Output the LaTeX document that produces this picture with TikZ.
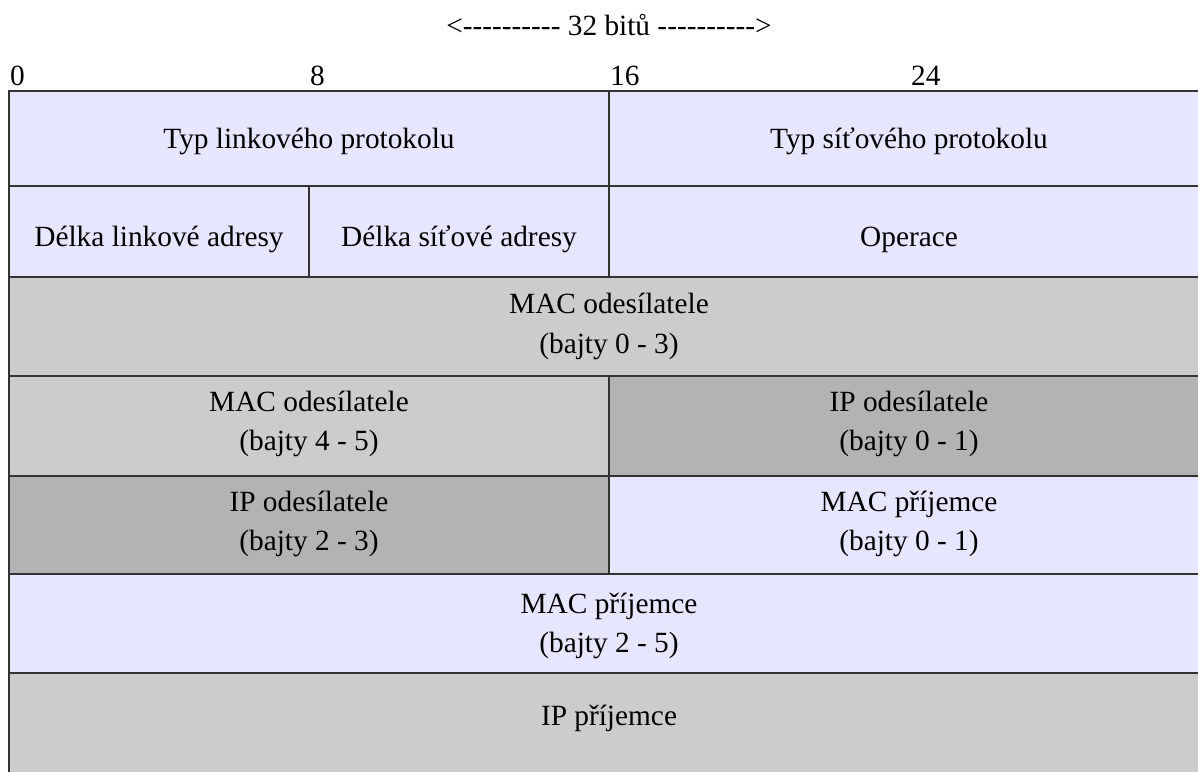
\documentclass[tikz,border=0pt]{standalone}
\usepackage{fontspec}
\setmainfont{Liberation Serif}
\definecolor{lav}{HTML}{E6E6FF}
\definecolor{lgray}{HTML}{CCCCCC}
\definecolor{dgray}{HTML}{B3B3B3}
\newcommand\hy{\mbox{-}}
\newcommand\hyten{\hy\hy\hy\hy\hy\hy\hy\hy\hy\hy}
\begin{document}
\begin{tikzpicture}[x=1pt,y=-1pt,
  cell/.style={draw=black!80, line width=1.2pt, inner sep=0pt, outer sep=0pt},
  txt/.style={font=\fontsize{29.33}{36}\selectfont, inner sep=0pt, anchor=base},
  ruler/.style={font=\fontsize{29.33}{36}\selectfont, inner sep=0pt, anchor=base west}]
\useasboundingbox (0,0) rectangle (1198,771);
\fill[white] (0,0) rectangle (1198,771);
\clip (0,0) rectangle (1198,771);
% header
\node[txt] (hdr) at (609,35) {<\hyten\ 32 bitů \hyten>};
\node[ruler] (b0) at (10,85) {0};
\node[ruler] (b8) at (310,85) {8};
\node[ruler] (b16) at (610,85) {16};
\node[ruler] (b24) at (911,85) {24};
% cells
\node[cell, fill=lav, minimum width=600pt, minimum height=95pt] (r1a) at (309,138.5) {};
\node[cell, fill=lav, minimum width=600pt, minimum height=95pt] (r1b) at (909,138.5) {};
\node[cell, fill=lav, minimum width=300pt, minimum height=91pt] (r2a) at (159,231.5) {};
\node[cell, fill=lav, minimum width=300pt, minimum height=91pt] (r2b) at (459,231.5) {};
\node[cell, fill=lav, minimum width=600pt, minimum height=91pt] (r2c) at (909,231.5) {};
\node[cell, fill=lgray, minimum width=1200pt, minimum height=99pt] (r3) at (609,326.5) {};
\node[cell, fill=lgray, minimum width=600pt, minimum height=100pt] (r4a) at (309,426) {};
\node[cell, fill=dgray, minimum width=600pt, minimum height=100pt] (r4b) at (909,426) {};
\node[cell, fill=dgray, minimum width=600pt, minimum height=98pt] (r5a) at (309,525) {};
\node[cell, fill=lav, minimum width=600pt, minimum height=98pt] (r5b) at (909,525) {};
\node[cell, fill=lav, minimum width=1200pt, minimum height=99pt] (r6) at (609,623.5) {};
\node[cell, fill=lgray, minimum width=1200pt, minimum height=100pt] (r7) at (609,723) {};
% texts
\node[txt] (t1a) at (309,148) {Typ linkového protokolu};
\node[txt] (t1b) at (909,148) {Typ síťového protokolu};
\node[txt] (t2a) at (159,246) {Délka linkové adresy};
\node[txt] (t2b) at (459,246) {Délka síťové adresy};
\node[txt] (t2c) at (909,246) {Operace};
\node[txt] (t3a) at (609,313) {MAC odesílatele};
\node[txt] (t3b) at (609,353) {(bajty 0 - 3)};
\node[txt] (t4a) at (309,411) {MAC odesílatele};
\node[txt] (t4b) at (309,450) {(bajty 4 - 5)};
\node[txt] (t4c) at (909,411) {IP odesílatele};
\node[txt] (t4d) at (909,450) {(bajty 0 - 1)};
\node[txt] (t5a) at (309,511) {IP odesílatele};
\node[txt] (t5b) at (309,550) {(bajty 2 - 3)};
\node[txt] (t5c) at (909,511) {MAC příjemce};
\node[txt] (t5d) at (909,550) {(bajty 0 - 1)};
\node[txt] (t6a) at (609,613) {MAC příjemce};
\node[txt] (t6b) at (609,652) {(bajty 2 - 5)};
\node[txt] (t7) at (609,725) {IP příjemce};
\end{tikzpicture}
\end{document}
